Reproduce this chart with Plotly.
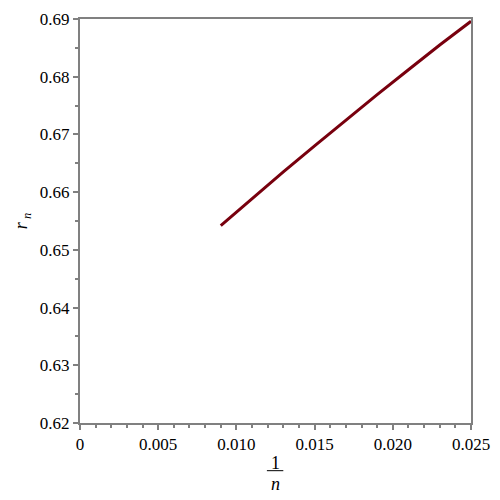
import plotly.graph_objects as go

# 1/n values and r_n
inv_n = [0.009, 0.011, 0.013, 0.015, 0.017, 0.019, 0.021, 0.023, 0.025]
r_n = [0.6542, 0.6589, 0.6635, 0.6680, 0.6725, 0.6769, 0.6812, 0.6855, 0.6896]

x_ticks = [0, 0.005, 0.010, 0.015, 0.020, 0.025]
x_labels = ['0', '0.005', '0.010', '0.015', '0.020', '0.025']
y_ticks = [0.62, 0.63, 0.64, 0.65, 0.66, 0.67, 0.68, 0.69]

font = 'Liberation Serif, Times New Roman, serif'
axis_col = '#808080'

fig = go.Figure()
fig.add_trace(go.Scatter(x=inv_n, y=r_n, mode='lines',
                         line=dict(color='#78000E', width=3),
                         showlegend=False))

fig.update_xaxes(range=[0, 0.025], tickvals=x_ticks, ticktext=x_labels,
                 showgrid=False, zeroline=False, showline=True, linecolor=axis_col,
                 linewidth=2, mirror=True, ticks='outside', ticklen=5, tickwidth=1.5,
                 tickcolor=axis_col,
                 minor=dict(ticks='outside', dtick=0.001, ticklen=3, tickcolor=axis_col,
                            showgrid=False))
fig.update_yaxes(range=[0.62, 0.69], tickvals=y_ticks, tickformat='.2f',
                 showgrid=False, zeroline=False, showline=True, linecolor=axis_col,
                 linewidth=2, mirror=True, ticks='outside', ticklen=5, tickwidth=1.5,
                 tickcolor=axis_col,
                 minor=dict(ticks='outside', dtick=0.005, ticklen=3, tickcolor=axis_col,
                            showgrid=False))

# axis titles: r_n on the left and the fraction 1/n below
title_font = dict(size=18, family=font, color='black')
fig.add_annotation(x=-0.148, y=0.5, xref='paper', yref='paper', xanchor='center',
                   yanchor='middle', text='<i>r</i><sub> <i>n</i></sub>', textangle=-90,
                   showarrow=False, font=title_font)
fig.add_annotation(x=0.5, y=-0.098, xref='paper', yref='paper', xanchor='center',
                   yanchor='middle', text='1', showarrow=False, font=title_font)
fig.add_shape(type='line', xref='paper', yref='paper', x0=0.478, x1=0.52,
              y0=-0.118, y1=-0.118, line=dict(color='black', width=1))
fig.add_annotation(x=0.5, y=-0.152, xref='paper', yref='paper', xanchor='center',
                   yanchor='middle', text='<i>n</i>', showarrow=False, font=title_font)

fig.update_layout(width=500, height=500,
                  margin=dict(l=80, r=20, t=10, b=77),
                  plot_bgcolor='white', paper_bgcolor='white',
                  font=dict(family=font, size=17, color='black'))

# drop the page's default body margin so the figure sits at the window corner
fig.write_html('out.html', config={'displayModeBar': False},
               post_script="document.body.style.margin='0';")
